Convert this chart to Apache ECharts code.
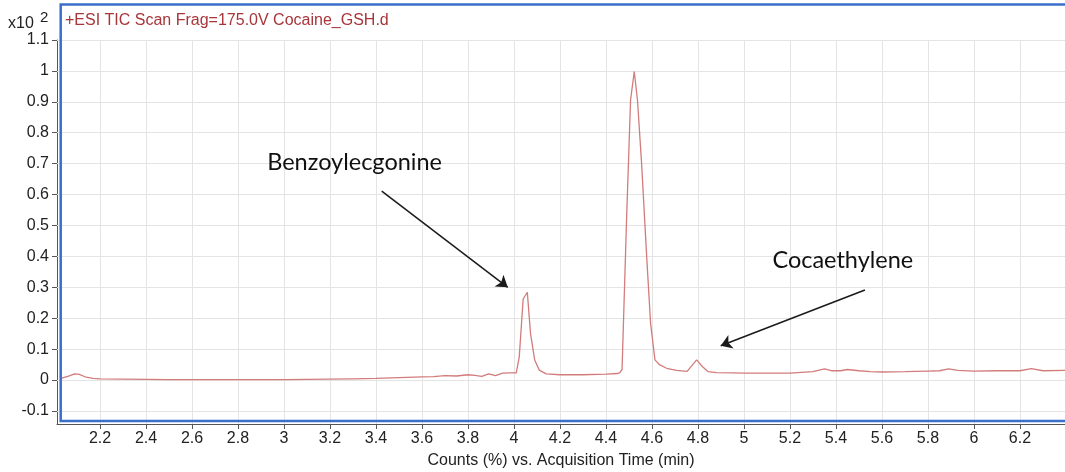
<!DOCTYPE html>
<html>
<head>
<meta charset="utf-8">
<style>
  html, body { margin: 0; padding: 0; background: #ffffff; }
  #chart { width: 1065px; height: 472px; }
</style>
<script src="https://cdn.jsdelivr.net/npm/echarts@6/dist/echarts.min.js"></script>
</head>
<body>
<div id="chart"></div>
<script>
// Total ion chromatogram, intensity in units of x10^2 counts (%)
const times = [
  2.033, 2.06, 2.09, 2.11, 2.14, 2.17, 2.2, 2.3, 2.4, 2.5, 2.6, 2.7, 2.8, 2.9, 3.0,
  3.1, 3.2, 3.3, 3.4, 3.5, 3.6, 3.65, 3.7, 3.75, 3.8, 3.83, 3.86, 3.89, 3.92, 3.95,
  3.98, 4.01, 4.023, 4.04, 4.058, 4.072, 4.09, 4.11, 4.14, 4.2, 4.3, 4.4, 4.45, 4.46,
  4.47, 4.49, 4.507, 4.523, 4.537, 4.555, 4.577, 4.594, 4.613, 4.632, 4.664, 4.707,
  4.753, 4.794, 4.82, 4.845, 4.88, 4.95, 5.0, 5.1, 5.2, 5.25, 5.3, 5.35, 5.38, 5.42,
  5.45, 5.5, 5.55, 5.6, 5.7, 5.8, 5.85, 5.89, 5.93, 6.0, 6.1, 6.2, 6.25, 6.3, 6.396
];
const intensities = [
  0.006, 0.012, 0.020, 0.018, 0.009, 0.005, 0.004, 0.003, 0.002, 0.001, 0.001, 0.001, 0.001, 0.001, 0.001,
  0.002, 0.003, 0.004, 0.005, 0.008, 0.010, 0.011, 0.014, 0.013, 0.017, 0.015, 0.012, 0.020, 0.014, 0.022,
  0.023, 0.023, 0.075, 0.262, 0.284, 0.150, 0.065, 0.032, 0.020, 0.017, 0.017, 0.019, 0.021, 0.024,
  0.034, 0.530, 0.906, 0.998, 0.906, 0.700, 0.400, 0.184, 0.065, 0.050, 0.038, 0.031,
  0.028, 0.065, 0.043, 0.027, 0.024, 0.023, 0.022, 0.022, 0.022, 0.025, 0.027, 0.036, 0.030, 0.030,
  0.034, 0.030, 0.027, 0.026, 0.027, 0.029, 0.030, 0.036, 0.031, 0.029, 0.030, 0.030, 0.037, 0.030, 0.031
];

const xTicks = [2.2, 2.4, 2.6, 2.8, 3, 3.2, 3.4, 3.6, 3.8, 4, 4.2, 4.4, 4.6, 4.8, 5, 5.2, 5.4, 5.6, 5.8, 6, 6.2];
const yTicks = [-0.1, 0, 0.1, 0.2, 0.3, 0.4, 0.5, 0.6, 0.7, 0.8, 0.9, 1, 1.1];

// Compound labels and the arrows pointing at their peaks (data coordinates)
const labelNames = ['Benzoylecgonine', 'Cocaethylene'];
const labelAt = [[3.307, 0.705], [5.430, 0.388]];
const arrowFrom = [[3.425, 0.611], [5.526, 0.291]];
const arrowTo = [[3.973, 0.300], [4.899, 0.111]];

const traceTitle = '+ESI TIC Scan Frag=175.0V Cocaine_GSH.d';
const xTitle = 'Counts (%) vs. Acquisition Time (min)';

const axisFont = 'Liberation Sans, Arial, sans-serif';
const chart = echarts.init(document.getElementById('chart'), null, { renderer: 'canvas' });

const gridLines = xTicks.map(v => ({ xAxis: v })).concat(yTicks.map(v => ({ yAxis: v })));

chart.setOption({
  animation: false,
  backgroundColor: '#ffffff',
  grid: { left: 57, right: 0, top: 40, bottom: 48, containLabel: false, outerBoundsMode: 'none' },
  xAxis: {
    type: 'value',
    min: 2.013,
    max: 6.396,
    name: xTitle,
    nameLocation: 'middle',
    nameGap: 29,
    nameTextStyle: { fontSize: 16, color: '#222', fontFamily: axisFont },
    axisLine: { show: true, onZero: false, lineStyle: { color: '#555', width: 1 } },
    axisTick: { show: true, length: 5, customValues: xTicks, lineStyle: { color: '#555' } },
    axisLabel: { customValues: xTicks, fontSize: 16, color: '#222', fontFamily: axisFont, margin: 7 },
    splitLine: { show: false }
  },
  yAxis: {
    type: 'value',
    min: -0.1423,
    max: 1.1,
    axisLine: { show: true, lineStyle: { color: '#555', width: 1 } },
    axisTick: { show: true, length: 5, customValues: yTicks, lineStyle: { color: '#555' } },
    axisLabel: { customValues: yTicks, fontSize: 16, color: '#222', fontFamily: axisFont, margin: 8 },
    splitLine: { show: false }
  },
  series: [
    {
      name: 'TIC',
      type: 'line',
      z: 3,
      data: times.map((t, i) => [t, intensities[i]]),
      showSymbol: false,
      symbol: 'none',
      lineStyle: { color: '#d27c7c', width: 1.3 },
      markLine: {
        z: 1,
        silent: true,
        symbol: 'none',
        label: { show: false },
        lineStyle: { color: '#e4e4e4', width: 1, type: 'solid' },
        data: gridLines
      }
    },
    {
      name: 'labels',
      type: 'line',
      z: 6,
      data: [],
      markLine: {
        z: 6,
        silent: true,
        symbol: ['none', 'arrow'],
        symbolSize: 11,
        label: { show: false },
        lineStyle: { color: '#1a1a1a', width: 1.5, type: 'solid' },
        data: arrowFrom.map((p, i) => [{ coord: p }, { coord: arrowTo[i] }])
      },
      markPoint: {
        z: 6,
        silent: true,
        symbol: 'circle',
        symbolSize: 0,
        label: {
          show: true,
          position: 'inside',
          formatter: '{b}',
          fontSize: 23.5,
          color: '#111',
          fontFamily: 'Lato, Open Sans, sans-serif'
        },
        data: labelNames.map((n, i) => ({ name: n, coord: labelAt[i] }))
      }
    }
  ],
  graphic: [
    {
      type: 'rect',
      z: 10,
      silent: true,
      shape: { x: 60.7, y: 4.5, width: 1020, height: 416.5 },
      style: { fill: 'none', stroke: '#3a6fc9', lineWidth: 2.5 }
    },
    {
      type: 'text',
      z: 10,
      left: 65,
      top: 13,
      style: { text: traceTitle, fontSize: 16, fill: '#a8353a', fontFamily: axisFont }
    },
    {
      type: 'text',
      z: 10,
      left: 8,
      top: 16,
      style: { text: 'x10', fontSize: 16, fill: '#222', fontFamily: axisFont }
    },
    {
      type: 'text',
      z: 10,
      left: 40,
      top: 10,
      style: { text: '2', fontSize: 15, fill: '#222', fontFamily: axisFont }
    }
  ]
});
</script>
</body>
</html>
